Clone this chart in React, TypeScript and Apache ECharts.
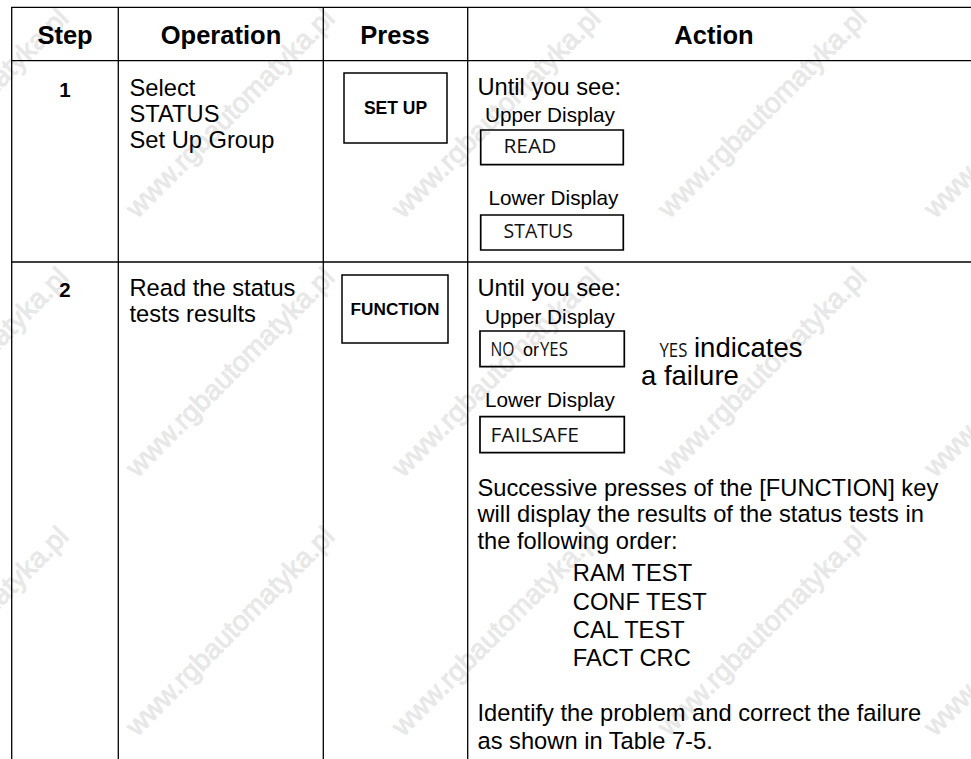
import React, { useEffect, useRef } from 'react';
import * as echarts from 'echarts';

// ---- table content ----
const HEADERS = ['Step', 'Operation', 'Press', 'Action'];
const STEPS = ['1', '2'];
const OPERATIONS = [
  ['Select', 'STATUS', 'Set Up Group'],
  ['Read the status', 'tests results'],
];
const KEYS = ['SET UP', 'FUNCTION'];
const PROMPT = 'Until you see:';
const UPPER_LABEL = 'Upper Display';
const LOWER_LABEL = 'Lower Display';
const ROW1_DISPLAYS = ['READ', 'STATUS'];
const ROW2_UPPER = ['NO', 'or', 'YES'];
const ROW2_NOTE = ['YES', 'indicates', 'a failure'];
const ROW2_LOWER = 'FAILSAFE';
const PARAGRAPH = [
  'Successive presses of the [FUNCTION] key',
  'will display the results of the status tests in',
  'the following order:',
];
const TESTS = ['RAM TEST', 'CONF TEST', 'CAL TEST', 'FACT CRC'];
const CLOSING = ['Identify the problem and correct the failure', 'as shown in Table 7-5.'];
const WATERMARK = 'www.rgbautomatyka.pl';

// ---- layout ----
const SANS = '"Liberation Sans", Arial, Helvetica, sans-serif';
const DISP = '"Open Sans", "Liberation Sans", sans-serif';
const COL_X = [11.7, 118.3, 323.3, 467.7];
const COL_CENTER = [65, 221, 395, 714];
const ROW_Y = [7.3, 60.7, 262];
const BODY = 23.7;
const LABEL = 20.7;
const DSIZE = 19.5;

type Opts = { family?: string; weight?: string | number; align?: string; fill?: string; sx?: number };

function txt(text: string, x: number, baseline: number, size: number, o: Opts = {}) {
  const family = o.family || SANS;
  const k = family === DISP ? 0.388 : 0.3465;
  const align = o.align || 'left';
  const el: any = {
    type: 'text',
    x,
    y: baseline - k * size,
    silent: true,
    style: {
      text,
      fontSize: size,
      fontFamily: family,
      fontWeight: o.weight || 'normal',
      fill: o.fill || '#000',
      align,
      textAlign: align,
      verticalAlign: 'middle',
      textVerticalAlign: 'middle',
    },
  };
  if (o.sx) el.scaleX = o.sx;
  return el;
}

function line(x1: number, y1: number, x2: number, y2: number, w = 1.3) {
  return {
    type: 'line',
    silent: true,
    shape: { x1, y1, x2, y2 },
    style: { stroke: '#000', lineWidth: w },
  };
}

function box(x: number, y: number, width: number, height: number, w = 1.7) {
  return {
    type: 'rect',
    silent: true,
    shape: { x, y, width, height },
    style: { fill: 'none', stroke: '#000', lineWidth: w },
  };
}

function buildGraphics() {
  const g: any[] = [];

  // watermark lattice
  const wmX = [-36, 230, 496, 762, 1028];
  const wmY = [113, 372, 631];
  wmY.forEach((cy) =>
    wmX.forEach((cx) => {
      g.push({
        type: 'text',
        x: cx,
        y: cy,
        rotation: Math.PI / 4,
        silent: true,
        z: 0,
        style: {
          text: WATERMARK,
          fontSize: 28,
          fontFamily: SANS,
          fill: '#e8e8e8',
          stroke: '#dcdcdc',
          lineWidth: 0.6,
          align: 'center',
          textAlign: 'center',
          verticalAlign: 'middle',
          textVerticalAlign: 'middle',
        },
      });
    })
  );

  // grid lines
  ROW_Y.forEach((y) => g.push(line(COL_X[0] - 0.6, y, 971, y)));
  COL_X.forEach((x) => g.push(line(x, ROW_Y[0], x, 759)));

  // headers
  HEADERS.forEach((h, i) =>
    g.push(txt(h, COL_CENTER[i], 44.1, 25.5, { weight: 'bold', align: 'center', family: SANS }))
  );

  // step numbers
  g.push(txt(STEPS[0], 65, 96.5, 20.5, { weight: 'bold', align: 'center' }));
  g.push(txt(STEPS[1], 65, 297, 20.5, { weight: 'bold', align: 'center' }));

  // operations
  const op1Base = [96, 122.2, 148.4];
  OPERATIONS[0].forEach((t, i) => g.push(txt(t, 129.5, op1Base[i], BODY)));
  const op2Base = [296, 322.6];
  OPERATIONS[1].forEach((t, i) => g.push(txt(t, 129.5, op2Base[i], BODY)));

  // press keys
  g.push(box(344, 73, 103, 70, 1.5));
  g.push(txt(KEYS[0], 395.5, 114.3, 17.5, { weight: 'bold', align: 'center' }));
  g.push(box(342, 275, 106, 68, 1.5));
  g.push(txt(KEYS[1], 395, 315.2, 17.2, { weight: 'bold', align: 'center' }));

  const disp = (t: string, x: number, b: number, sx?: number) =>
    txt(t, x, b, DSIZE, { family: DISP, weight: 'normal', sx, fill: '#111' });

  // row 1 action
  g.push(txt(PROMPT, 477.5, 95, BODY));
  g.push(txt(UPPER_LABEL, 485, 121.7, LABEL));
  g.push(box(480.7, 130, 142.6, 34.7));
  g.push(disp(ROW1_DISPLAYS[0], 503.5, 152.7, 1.07));
  g.push(txt(LOWER_LABEL, 488.5, 204.3, LABEL));
  g.push(box(480.7, 215, 142.6, 35));
  g.push(disp(ROW1_DISPLAYS[1], 503.5, 237.7));

  // row 2 action
  g.push(txt(PROMPT, 477.5, 296.7, BODY));
  g.push(txt(UPPER_LABEL, 485, 323.3, LABEL));
  g.push(box(480, 331, 144.3, 35.7));
  g.push(disp(ROW2_UPPER[0], 490.5, 356, 0.8));
  g.push(txt(ROW2_UPPER[1], 523, 356, 18));
  g.push(disp(ROW2_UPPER[2], 540, 356, 0.86));
  g.push(disp(ROW2_NOTE[0], 659.5, 357, 0.86));
  g.push(txt(ROW2_NOTE[1], 694, 357, 27.5));
  g.push(txt(ROW2_NOTE[2], 641, 385, 27.5));
  g.push(txt(LOWER_LABEL, 485, 406.7, LABEL));
  g.push(box(480, 416.7, 144.3, 36));
  g.push(disp(ROW2_LOWER, 490.5, 442.3, 1.08));

  const paraBase = [496, 522.7, 549.3];
  PARAGRAPH.forEach((t, i) => g.push(txt(t, 477.5, paraBase[i], BODY)));
  const testBase = [581.7, 610, 638.3, 666];
  TESTS.forEach((t, i) => g.push(txt(t, 572.8, testBase[i], BODY)));
  const closeBase = [721.7, 749.3];
  CLOSING.forEach((t, i) => g.push(txt(t, 477.5, closeBase[i], BODY)));

  return g;
}

export default function App() {
  const ref = useRef<HTMLDivElement>(null);
  useEffect(() => {
    if (!ref.current) return;
    const chart = echarts.init(ref.current, undefined, { renderer: 'svg' });
    chart.setOption({
      animation: false,
      backgroundColor: '#ffffff',
      graphic: { elements: buildGraphics() },
    });
    return () => chart.dispose();
  }, []);
  return (
    <div
      ref={ref}
      style={{ position: 'fixed', left: 0, top: 0, width: 971, height: 759, background: '#fff' }}
    />
  );
}
